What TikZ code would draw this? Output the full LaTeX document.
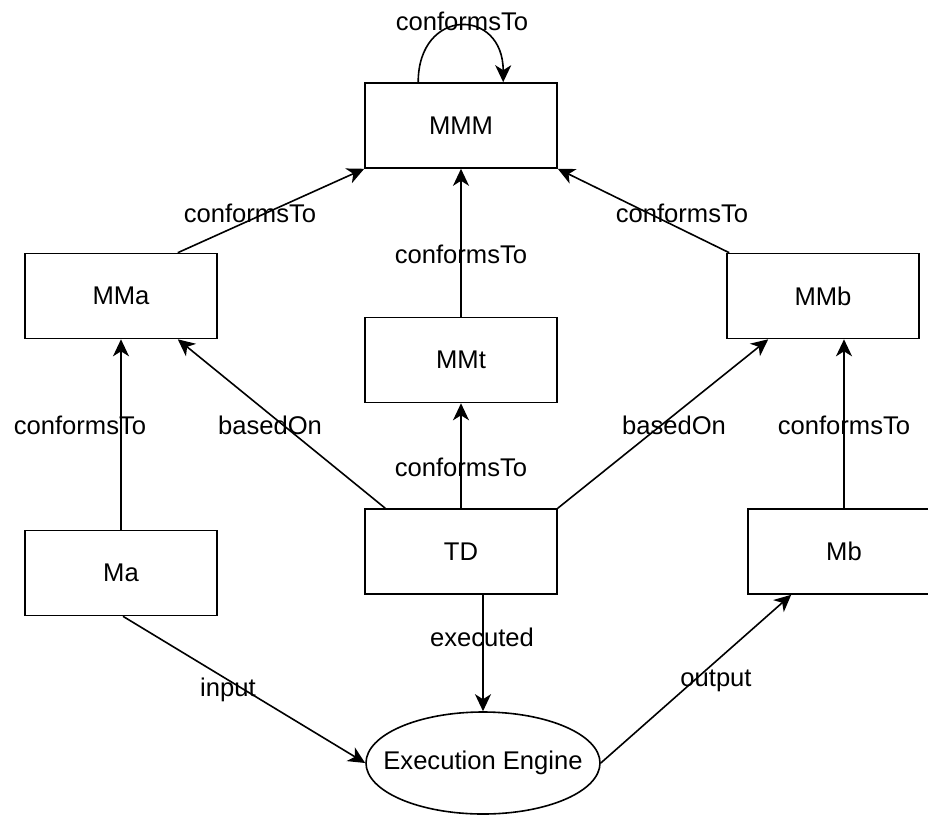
\documentclass[tikz,border=0pt]{standalone}
\usepackage{fontspec}
\setmainfont{Liberation Sans}
\usetikzlibrary{arrows.meta,calc,shapes.geometric}
\begin{document}
\begin{tikzpicture}[x=1pt,y=-1pt,
  every node/.style={font=\fontsize{25.6}{30}\selectfont},
  box/.style={draw,line width=1.6pt,minimum width=192pt,minimum height=85pt,inner sep=0pt},
  eng/.style={draw,ellipse,line width=1.6pt,minimum width=234pt,minimum height=102pt,inner sep=0pt},
  conn/.style={line width=1.6pt,-{Stealth[length=17pt,width=16pt,inset=5pt]}},
  lbl/.style={inner sep=0pt}]
\useasboundingbox (0,0) rectangle (928,816);
\fill[white] (0,0) rectangle (928,816);
\clip (0,0) rectangle (928,816);
% nodes
\node[box] (MMM) at (461,125.5) {MMM};
\node[box] (MMa) at (121,296) {MMa};
\node[box] (MMb) at (823,296) {MMb};
\node[box] (MMt) at (461,360) {MMt};
\node[box] (TD) at (461,551.5) {TD};
\node[box] (Ma) at (121,573) {Ma};
\node[box] (Mb) at (844,551.5) {Mb};
\node[eng] (EE) at (483,763) {};
\node[lbl] (EEt) at (EE.center) {Execution Engine};
% connectors
\draw[conn] ($(MMM.north west)+(54,0)$) .. controls ($(MMM.north west)+(54,-75)$) and ($(MMM.north west)+(139,-75)$) .. ($(MMM.north west)+(139,0)$);
\draw[conn] ($(MMa.north east)+(-40,0)$) -- (MMM.south west);
\draw[conn] (MMt.north) -- (MMM.south);
\draw[conn] ($(MMb.north west)+(3,0)$) -- (MMM.south east);
\draw[conn] (Ma.north) -- (MMa.south);
\draw[conn] ($(TD.north west)+(21,0)$) -- ($(MMa.south east)+(-40,0)$);
\draw[conn] (TD.north) -- (MMt.south);
\draw[conn] (TD.north east) -- ($(MMb.south west)+(42,0)$);
\draw[conn] (Mb.north) -- (Mb.north |- MMb.south);
\draw[conn] (TD.south -| EE.north) -- (EE.north);
\draw[conn] ($(Ma.south)+(2,0)$) -- (EE.west);
\draw[conn] (EE.east) -- ($(Mb.south west)+(44,0)$);
% labels
\node[lbl] (l0) at (462,21) {conformsTo};
\node[lbl] (l1) at (250,213) {conformsTo};
\node[lbl] (l2) at (461,254) {conformsTo};
\node[lbl] (l3) at (682,213) {conformsTo};
\node[lbl] (l4) at (80,425) {conformsTo};
\node[lbl] (l5) at (270,425) {basedOn};
\node[lbl] (l6) at (461,467) {conformsTo};
\node[lbl] (l7) at (674,425) {basedOn};
\node[lbl] (l8) at (844,425) {conformsTo};
\node[lbl] (l9) at (482,637) {executed};
\node[lbl] (l10) at (228,690) {input};
\node[lbl] (l11) at (716,681) {output};
\end{tikzpicture}
\end{document}
